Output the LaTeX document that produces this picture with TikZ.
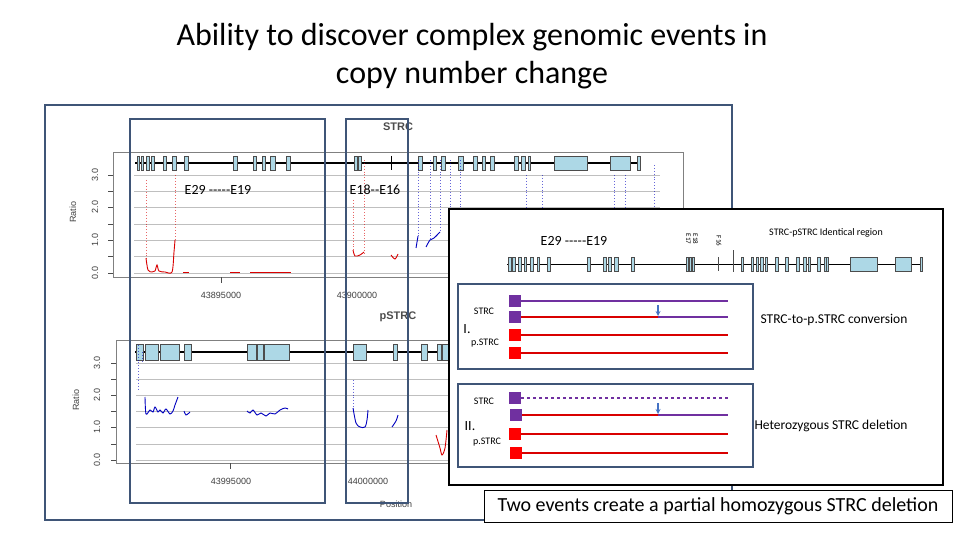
\documentclass[tikz,border=0pt]{standalone}
\usepackage{fontspec}
\setmainfont{Carlito}
\newfontfamily\rfont{Liberation Sans}
\begin{document}
\begin{tikzpicture}[x=1pt,y=-1pt,
  frame/.style={draw=slate,line width=2.2pt},
  hbox/.style={draw=slate,line width=1.6pt},
  exon/.style={draw=black!70,fill=lightb,line width=0.5pt},
  grid/.style={draw=black!25,line width=0.5pt},
  rtxt/.style={font=\rfont\fontsize{9}{10}\selectfont,text=black!75},
  red/.style={draw=red!85!black,line width=0.9pt},
  blu/.style={draw=blue!75!black,line width=0.9pt},
  dots/.style={dotted,line width=0.4pt,draw opacity=0.6},
  chrom/.style={line width=1.3pt,line cap=rect},
  sq/.style={minimum size=12pt,inner sep=0pt},
  lab/.style={font=\fontsize{10}{11}\selectfont}]
\definecolor{slate}{HTML}{3F5577}
\definecolor{lightb}{HTML}{ADD8E6}
\definecolor{purp}{HTML}{7030A0}
\definecolor{arr}{HTML}{4472C4}
\useasboundingbox (0,0) rectangle (960,540);
\fill[white] (0,0) rectangle (960,540);
% title
\node (t1) at (472,37) {\fontsize{32}{36}\selectfont Ability to discover complex genomic events in};
\node (t2) at (472,75) {\fontsize{32}{36}\selectfont copy number change};
% slide frame
\draw[frame] (45,105) rectangle (732,520);
% ---------- top plot
\foreach \y in {175,191,207,224,240,256,273}{\draw[grid] (134,\y) -- (660,\y);}
\draw[black!50] (113,152) rectangle (683,277);
\foreach \y/\l in {273/0.0,240/1.0,207/2.0,175/3.0}{
  \draw[black!70] (108,\y) -- (113,\y);
  \node[rtxt,rotate=90] at (95,\y) {\l};}
\foreach \y in {256,224,191}{\draw[black!70] (108,\y) -- (113,\y);}
\node[rtxt,rotate=90] (ratio1) at (73,212) {Ratio};
\draw[black!70] (221,277) -- (221,283);
\node[rtxt] (x1) at (221,295) {43895000};
\node[rtxt] (x2) at (357,295) {43900000};
\node[font=\rfont\fontsize{11}{12}\selectfont\bfseries,text=black!70] (strc) at (398,127) {STRC};
\draw[chrom] (136,163) -- (640,163);
\foreach \a/\b in {137/139,141/143,146/149,151/154,163/166,172/176,184/188,233/237,253/256,262/265,270/275,286/290,354/357,358/361,418/422,433/436,441/445,458/463,473/477,482/485,490/494,514/518,521/525,528/530,554/587,610/630,637/640}{
  \draw[exon] (\a,156) rectangle (\b,170);}
\draw[line width=1pt] (391,156) -- (391,170);
% top data
\draw[red,dots] (146,180) -- (146,262) (175,175) -- (175,240) (353,200) -- (353,250) (364,160) -- (364,253);
\draw[red] plot[smooth] coordinates {(146,258) (148,270) (152,272) (155,271) (157,265) (159,271) (165,272) (172,272) (174,252) (175,240)};
\draw[red] (183,272) -- (189,272) (230,272) -- (240,272) (250,272) -- (291,272);
\draw[red] plot[smooth] coordinates {(353,250) (355,256) (360,255) (364,252)};
\draw[red] plot[smooth] coordinates {(391,255) (395,259) (398,254)};
\draw[blu,dots] (418,160) -- (418,236) (430,160) -- (430,240) (440,160) -- (440,232) (450,160) -- (450,209) (460,160) -- (460,209) (526,175) -- (526,209) (542,175) -- (542,209) (614,175) -- (614,209) (625,175) -- (625,209) (654,165) -- (654,209);
\draw[blu] plot[smooth] coordinates {(416,248) (418,236)};
\draw[blu] plot[smooth] coordinates {(426,247) (430,240) (434,238) (440,232)};
\node[font=\fontsize{14}{15}\selectfont] (e1) at (218,190) {E29 {-}{-}{-}{-}{-}E19};
\node[font=\fontsize{14}{15}\selectfont] (e2) at (375,190) {E18{-}{-}E16};
% ---------- bottom plot
\foreach \y in {363,379,395,411,427,444,460}{\draw[grid] (136,\y) -- (448,\y);}
\draw[black!50] (116,340) -- (116,463) -- (448,463) (116,340) -- (448,340);
\foreach \y/\l in {460/0.0,427/1.0,395/2.0,363/3.0}{
  \draw[black!70] (111,\y) -- (116,\y);
  \node[rtxt,rotate=90] at (97,\y) {\l};}
\foreach \y in {444,411,379}{\draw[black!70] (111,\y) -- (116,\y);}
\node[rtxt,rotate=90] (ratio2) at (76,400) {Ratio};
\draw[black!70] (230,463) -- (230,469);
\node[rtxt] (x3) at (231,481) {43995000};
\node[rtxt] (x4) at (368,481) {44000000};
\node[rtxt] (pos) at (396,504) {Position};
\node[font=\rfont\fontsize{11}{12}\selectfont\bfseries,text=black!70] (pstrc) at (398,317) {pSTRC};
\draw[chrom] (136,352) -- (448,352);
\foreach \a/\b in {136/143,145/158,160/179,184/191,247/256,257/263,264/289,353/366,393/397,421/427,437/441,442/448}{
  \draw[exon] (\a,344) rectangle (\b,360);}
\draw[blu,dots] (138,345) -- (138,390) (142,352) -- (142,362) (353,380) -- (353,410);
\draw[blu] plot[smooth] coordinates {(145,397) (146,414) (150,410) (153,412) (155,407) (158,412) (160,410) (163,413) (166,409) (170,414) (173,411) (175,405) (178,397)};
\draw[blu] plot[smooth] coordinates {(184,411) (186,415) (190,412)};
\draw[blu] plot[smooth] coordinates {(247,411) (250,413) (253,410) (257,415) (261,413) (266,416) (270,413) (275,414) (280,410) (285,408) (288,409)};
\draw[blu] plot[smooth] coordinates {(353,408) (356,423) (360,427) (365,427) (367,420) (368,410)};
\draw[blu] plot[smooth] coordinates {(392,427) (396,421) (398,415)};
\draw[red] plot[smooth] coordinates {(436,435) (440,448) (442,455) (445,448) (447,430)};
% highlight boxes
\draw[hbox] (130,119) rectangle (325,503);
\draw[hbox] (346,119) rectangle (408,503);
% ---------- inset
\draw[line width=2.5pt,fill=white] (449,209) rectangle (943,485);
\draw[line width=0.8pt] (507,264) -- (922,264);
\draw[black!70] (733,250) -- (733,272);
\foreach \a/\b in {508/511,512/515,518/521,524/526,530/533,537/539,547/550,587/590,603/606,608/611,614/618,631/634,686/688,689/691,692/694,741/743,751/753,756/758,760/763,765/767,775/778,785/788,796/799,803/806,808/810,817/820,824/826,826/828,850/877,895/911,920/922}{
  \draw[exon,line width=0.4pt] (\a,257) rectangle (\b,271);}
\draw[black!70] (718,257) -- (718,271);
\node[font=\fontsize{14}{15}\selectfont] (ie) at (574,241) {E29 {-}{-}{-}{-}{-}E19};
\node[font=\fontsize{7}{7}\selectfont,rotate=-90,align=left] (e1817) at (692,239) {E18\\E17};
\node[font=\fontsize{7}{8}\selectfont,rotate=-90] (f16) at (719,241) {F16};
\node[font=\fontsize{10}{11}\selectfont] (ident) at (826,233) {STRC-pSTRC Identical region};
% box I
\draw[hbox,line width=1.3pt] (458,284) rectangle (753,369);
\node[lab] at (484,311) {STRC};
\node[font=\fontsize{14}{15}\selectfont] at (467,329) {I.};
\node[lab] at (485,343) {p.STRC};
\node[sq,fill=purp] (s1) at (515,301) {};
\node[sq,fill=purp] (s2) at (515,317) {};
\node[sq,fill=red] (s3) at (515,335) {};
\node[sq,fill=red] (s4) at (515,353) {};
\coordinate (e1a) at (728,301); \coordinate (m2) at (658,317); \coordinate (e2a) at (728,317);
\coordinate (e3a) at (728,335); \coordinate (e4a) at (728,353);
\draw[purp,line width=1.2pt] (s1.east) -- (e1a);
\draw[red,line width=1.4pt] (s2.east) -- (m2); \draw[purp,line width=1.2pt] (m2) -- (e2a);
\draw[red,line width=1.4pt] (s3.east) -- (e3a);
\draw[red,line width=1.4pt] (s4.east) -- (e4a);
\draw[arr,line width=1.2pt,-stealth] (658,305) -- (658,316);
% box II
\draw[hbox,line width=1.3pt] (458,384) rectangle (753,467);
\node[lab] at (484,401) {STRC};
\node[font=\fontsize{14}{15}\selectfont] at (470,426) {II.};
\node[lab] at (487,442) {p.STRC};
\node[sq,fill=purp] (q1) at (515,398) {};
\node[sq,fill=purp] (q2) at (516,415) {};
\node[sq,fill=red] (q3) at (515,434) {};
\node[sq,fill=red] (q4) at (516,453) {};
\coordinate (f1) at (728,398); \coordinate (n2) at (658,415); \coordinate (f2) at (728,415);
\coordinate (f3) at (728,434); \coordinate (f4) at (728,453);
\draw[purp,line width=1.2pt,dashed] (q1.east) -- (f1);
\draw[red,line width=1.4pt] (q2.east) -- (n2); \draw[purp,line width=1.2pt] (n2) -- (f2);
\draw[red,line width=1.4pt] (q3.east) -- (f3);
\draw[red,line width=1.4pt] (q4.east) -- (f4);
\draw[arr,line width=1.2pt,-stealth] (658,403) -- (658,414);
\node[font=\fontsize{13.5}{15}\selectfont] (conv) at (834,320) {STRC-to-p.STRC conversion};
\node[font=\fontsize{13.5}{15}\selectfont] (het) at (831,426) {Heterozygous STRC deletion};
% caption
\draw[black,line width=0.6pt,fill=white] (484,490) rectangle (952,522);
\node[font=\fontsize{20}{22}\selectfont] (cap) at (718,506) {Two events create a partial homozygous STRC deletion};
\end{tikzpicture}
\end{document}
